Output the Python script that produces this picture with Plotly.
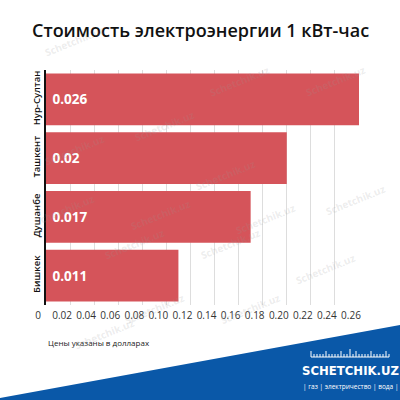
import plotly.graph_objects as go

cities = ["Нур-Султан", "Ташкент", "Душанбе", "Бишкек"]
prices = [0.026, 0.02, 0.017, 0.011]
price_labels = ["0.026", "0.02", "0.017", "0.011"]
tick_labels = ["0", "0.02", "0.04", "0.06", "0.08", "0.10", "0.12", "0.14",
               "0.16", "0.18", "0.20", "0.22", "0.24", "0.26"]
tick_positions = [i * 0.002 for i in range(len(tick_labels))]

W, H = 400, 400
L, R, T, B = 46, 41, 70, 95
pw, ph = W - L - R, H - T - B

def px(x):
    return (x - L) / pw

def py(y):
    return (H - B - y) / ph

fig = go.Figure()
fig.add_trace(go.Bar(
    x=prices, y=cities, orientation="h",
    marker=dict(color="#D5545A", line=dict(width=0)),
    text=price_labels, texttemplate=" %{text}", textposition="inside", insidetextanchor="start",
    textfont=dict(family="Open Sans", size=13.5, color="white", weight=700),
    hoverinfo="skip",
))

shapes = []
# blue footer band
shapes.append(dict(type="path", xref="paper", yref="paper",
                   path=f"M {px(-5)} {py(399)} L {px(405)} {py(324)} L {px(405)} {py(405)} L {px(-5)} {py(405)} Z",
                   fillcolor="#0A58A8", line=dict(width=0), layer="above"))
# ruler above logo
shapes.append(dict(type="line", xref="paper", yref="paper",
                   x0=px(311), x1=px(389), y0=py(357), y1=py(357),
                   line=dict(color="white", width=1), layer="above"))
for i in range(0, 27):
    xx = 311 + i * 3
    hgt = 6 if i % 5 == 0 else 3
    if i == 13:
        hgt = 8
    shapes.append(dict(type="line", xref="paper", yref="paper",
                       x0=px(xx), x1=px(xx), y0=py(357), y1=py(357 - hgt),
                       line=dict(color="white", width=1), layer="above"))

annotations = [
    dict(text="Стоимость электроэнергии 1 кВт-час", x=px(200), y=py(30),
         xref="paper", yref="paper", showarrow=False, xanchor="center", yanchor="middle",
         font=dict(family="Open Sans", size=18, color="#111", weight=600)),
    dict(text="Цены указаны в долларах", x=px(46), y=py(342),
         xref="paper", yref="paper", showarrow=False, xanchor="left", yanchor="middle",
         font=dict(family="Open Sans", size=8, color="#222")),
    dict(text="SCHETCHIK.UZ", x=px(350), y=py(370),
         xref="paper", yref="paper", showarrow=False, xanchor="center", yanchor="middle",
         font=dict(family="Liberation Sans Narrow, DejaVu Sans Condensed, Roboto", size=13, color="white", weight=700)),
    dict(text="| газ | электричество | вода |", x=px(350), y=py(386),
         xref="paper", yref="paper", showarrow=False, xanchor="center", yanchor="middle",
         font=dict(family="Open Sans", size=6.5, color="white")),
]
# faint watermarks
for (wx, wy) in [(40, 20), (130, 105), (240, 60), (370, 60), (40, 150), (260, 175),
                 (30, 210), (160, 215), (300, 240), (390, 200), (100, 265), (230, 265),
                 (360, 290), (120, 330), (250, 330), (70, 355)]:
    annotations.append(dict(text="Schetchik.uz", x=px(wx), y=py(wy), xref="paper", yref="paper",
                            showarrow=False, textangle=-22,
                            font=dict(family="Open Sans", size=10, color="rgba(150,150,150,0.18)", weight=700)))

fig.update_layout(
    width=W, height=H,
    margin=dict(l=L, r=R, t=T, b=B),
    paper_bgcolor="white", plot_bgcolor="white",
    showlegend=False, bargap=0.12,
    shapes=shapes, annotations=annotations,
    xaxis=dict(range=[0, 0.026], tickvals=tick_positions, ticktext=tick_labels,
               showgrid=True, gridcolor="#DDDDDD", gridwidth=1, zeroline=False,
               showline=False, ticks="", ticklabelshift=-8, ticklabelstandoff=3,
               tickfont=dict(family="Open Sans", size=10, color="#333")),
    yaxis=dict(autorange="reversed", tickangle=-90, showgrid=False, zeroline=False,
               showline=True, linecolor="#111", linewidth=2, ticks="",
               tickfont=dict(family="Open Sans", size=9.5, color="#111", weight=600)),
)
fig.write_html("out.html")
